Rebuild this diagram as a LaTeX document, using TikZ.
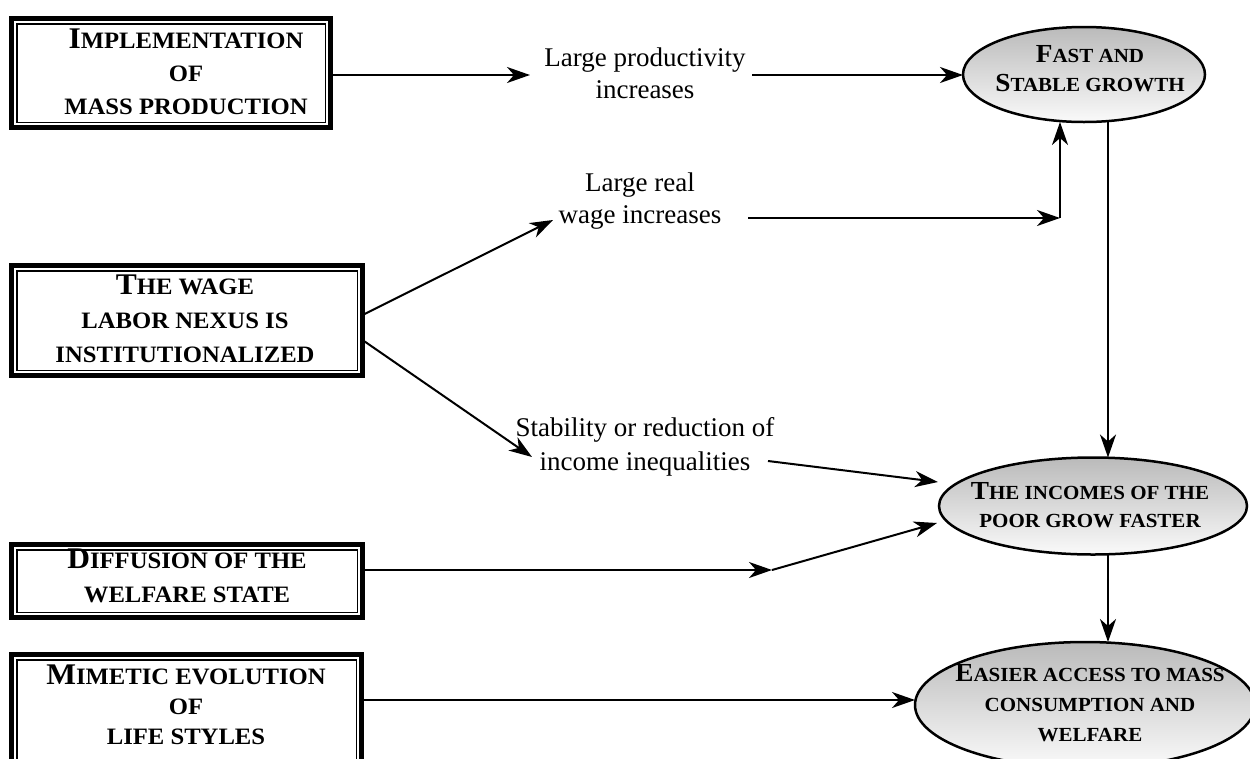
\documentclass[tikz,border=0pt]{standalone}
\usepackage{fontspec}
\setmainfont{Liberation Serif}
\newfontfamily\capsfont[FakeStretch=1.05]{Liberation Serif}
\usetikzlibrary{arrows.meta,shapes.geometric}
\newcommand\BxBig[1]{{\fontsize{30}{33}\selectfont #1}}
\newcommand\ElBig[1]{{\fontsize{26}{29}\selectfont #1}}
\tikzset{
  dbox/.style={draw, line width=5pt, inner sep=0pt, outer sep=0pt},
  thinframe/.style={line width=1.5pt},
  btext/.style={align=center, inner sep=0pt, font=\capsfont\bfseries\fontsize{23.5}{33}\selectfont},
  oval/.style={ellipse, draw, line width=2.5pt, inner sep=0pt, outer sep=0pt, top color=black!27, bottom color=black!2},
  etext/.style={align=center, inner sep=0pt, font=\capsfont\bfseries\fontsize{20}{29}\selectfont},
  lbl/.style={align=center, inner sep=0pt, font=\fontsize{27}{32}\selectfont},
  arr/.style={-{Stealth[length=23pt,width=16pt,inset=7pt]}, line width=2pt},
}
\begin{document}
\begin{tikzpicture}[x=1pt,y=-1pt]
\useasboundingbox (0,0) rectangle (1250,758);
\clip (0,0) rectangle (1250,758);

% boxes
\node[dbox, minimum width=319pt, minimum height=109pt] (b1) at (171,73) {};
\node[dbox, minimum width=351pt, minimum height=110pt] (b2) at (187,320.5) {};
\node[dbox, minimum width=351pt, minimum height=73pt] (b4) at (187,581) {};
\node[dbox, minimum width=350pt, minimum height=133pt] (b5) at (186.5,721) {};
\foreach \b in {b1,b2,b4,b5}{
  \draw[thinframe] ([shift={(5.25,5.25)}]\b.north west) rectangle ([shift={(-5.25,-5.25)}]\b.south east);
}
\node[btext] (t1) at (186,72) {\BxBig{I}MPLEMENTATION\\OF\\MASS PRODUCTION};
\node[btext, font=\capsfont\bfseries\fontsize{23.5}{34}\selectfont] (t2) at (185,319) {\BxBig{T}HE WAGE\\LABOR NEXUS IS\\INSTITUTIONALIZED};
\node[btext, font=\capsfont\bfseries\fontsize{23.5}{34}\selectfont] (t4) at (187,575.5) {\BxBig{D}IFFUSION OF THE\\WELFARE STATE};
\node[btext, font=\capsfont\bfseries\fontsize{23.5}{30}\selectfont] (t5) at (186,705) {\BxBig{M}IMETIC EVOLUTION\\OF\\LIFE STYLES};

% ellipses
\node[oval, minimum width=242pt, minimum height=95pt] (e1) at (1084,74.5) {};
\node[oval, minimum width=308pt, minimum height=97pt] (e2) at (1093,506) {};
\node[oval, minimum width=340pt, minimum height=126pt] (e3) at (1085,705) {};
\node[etext] (et1) at (1090,69) {\ElBig{F}AST AND\\\ElBig{S}TABLE GROWTH};
\node[etext, font=\capsfont\bfseries\fontsize{20}{28}\selectfont] (et2) at (1090,505.5) {\ElBig{T}HE INCOMES OF THE\\POOR GROW FASTER};
\node[etext, font=\capsfont\bfseries\fontsize{20}{30}\selectfont] (et3) at (1090,703.5) {\ElBig{E}ASIER ACCESS TO MASS\\CONSUMPTION AND\\WELFARE};

% labels
\node[lbl] (l1) at (645,73) {Large productivity\\increases};
\node[lbl] (l2) at (640,201) {Large real\\wage increases};
\node[lbl, font=\fontsize{27}{34}\selectfont] (l3) at (645,446.5) {Stability or reduction of\\income inequalities};

% connector points
\coordinate (p1) at (530,75);
\coordinate (p2) at (752,75);
\coordinate (w1) at (553,220);
\coordinate (w2) at (748,218);
\coordinate (j) at (1060,218);
\coordinate (s1) at (532,457);
\coordinate (s2) at (768,461);
\coordinate (s3) at (938,482);
\coordinate (d1) at (772,570);
\coordinate (d2) at (937,523);
\coordinate (vx) at (1108,0);

% connectors
\draw[arr] (b1.east |- p1) -- (p1);
\draw[arr] (p2) -- (p2 -| e1.west);
\draw[arr] ([yshift=5.5pt]b2.east) -- (w1);
\draw[arr] (w2) -- (j);
\draw[arr] (j) -- (j |- e1.south);
\draw[arr] ([yshift=-19.5pt]b2.east) -- (s1);
\draw[arr] (s2) -- (s3);
\draw[arr] ([yshift=11pt]b4.east) -- (d1);
\draw[arr] (d1) -- (d2);
\draw[arr] ([yshift=21pt]b5.east) -- ([yshift=21pt]b5.east -| e3.west);
\draw[arr] (e1.south -| vx) -- (e2.north -| vx);
\draw[arr] (e2.south -| vx) -- (e3.north -| vx);
\end{tikzpicture}
\end{document}
